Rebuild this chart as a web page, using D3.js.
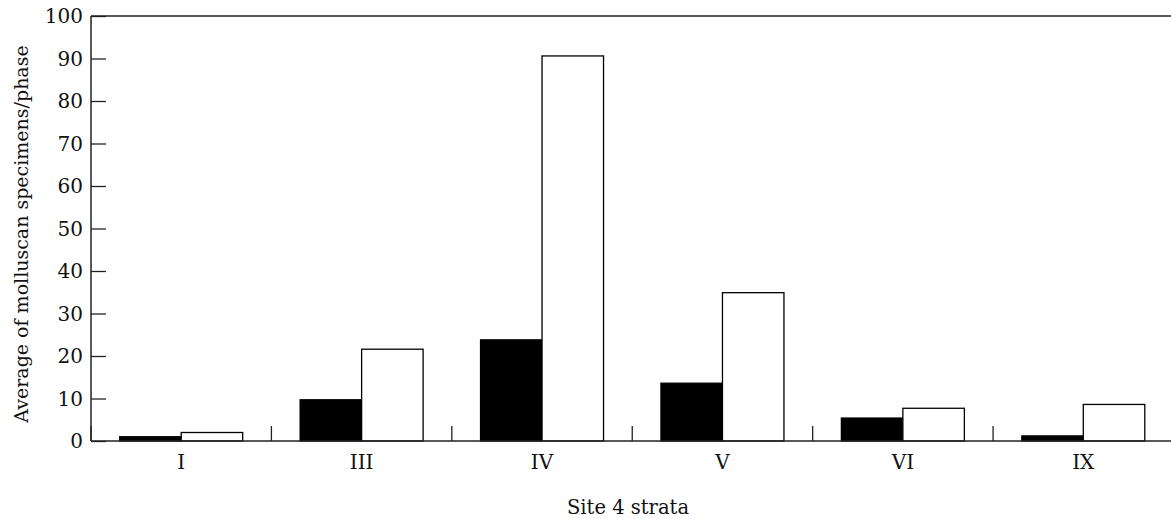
<!DOCTYPE html>
<html>
<head>
<meta charset="utf-8">
<script src="https://cdn.jsdelivr.net/npm/d3@7"></script>
<style>
  body { margin: 0; background: #fff; }
  svg { display: block; font-family: "DejaVu Serif", serif; }
</style>
</head>
<body>
<svg></svg>
<script>
// values
const strata = ["I", "III", "IV", "V", "VI", "IX"];
const seriesNames = ["dark", "light"];
const darkValues = [1.0, 9.7, 23.8, 13.6, 5.4, 1.2];
const lightValues = [2.0, 21.6, 90.6, 34.9, 7.7, 8.6];
const yTicks = [0, 10, 20, 30, 40, 50, 60, 70, 80, 90, 100];

const svgWidth = 1171, svgHeight = 519;
const margin = { top: 16, right: -2.5, bottom: 78, left: 91 };
const width = svgWidth - margin.left - margin.right;
const height = svgHeight - margin.top - margin.bottom;

const svg = d3.select("svg")
    .attr("width", svgWidth)
    .attr("height", svgHeight);

const g = svg.append("g")
    .attr("transform", "translate(" + margin.left + "," + margin.top + ")");

const x0 = d3.scaleBand().domain(strata).range([0, width]).padding(0);
const x1 = d3.scaleBand().domain(seriesNames).range([0, x0.bandwidth()])
    .paddingInner(0).paddingOuter(0.467);
const y = d3.scaleLinear().domain([0, 100]).range([height, 0]);

const rows = strata.map(function(s, i) {
    return { stratum: s, dark: darkValues[i], light: lightValues[i] };
});

// bars
const groups = g.selectAll(".grp")
    .data(rows)
    .enter().append("g")
    .attr("transform", function(d) { return "translate(" + x0(d.stratum) + ",0)"; });

groups.selectAll("rect")
    .data(function(d) { return seriesNames.map(function(k) { return { key: k, value: d[k] }; }); })
    .enter().append("rect")
    .attr("x", function(d) { return x1(d.key); })
    .attr("y", function(d) { return y(d.value); })
    .attr("width", x1.bandwidth())
    .attr("height", function(d) { return height - y(d.value); })
    .attr("fill", function(d) { return d.key === "dark" ? "#000" : "#fff"; })
    .attr("stroke", "#000")
    .attr("stroke-width", 1.3);

// y axis, ticks pointing inward
const yAxis = g.append("g")
    .call(d3.axisRight(y).tickValues(yTicks).tickSize(15).tickFormat(""));
yAxis.select(".domain").remove();
yAxis.selectAll("line").attr("stroke", "#222").attr("stroke-width", 1.3);

g.selectAll(".ylab")
    .data(yTicks)
    .enter().append("text")
    .attr("x", -8)
    .attr("y", function(d) { return y(d); })
    .attr("dy", "0.36em")
    .attr("text-anchor", "end")
    .attr("font-size", 20)
    .attr("fill", "#111")
    .text(function(d) { return d; });

// frame: left, top, bottom
g.append("line").attr("x1", 0).attr("x2", 0).attr("y1", 0).attr("y2", height)
    .attr("stroke", "#222").attr("stroke-width", 1.5);
g.append("line").attr("x1", 0).attr("x2", width).attr("y1", 0).attr("y2", 0)
    .attr("stroke", "#222").attr("stroke-width", 1.5);
g.append("line").attr("x1", 0).attr("x2", width).attr("y1", height).attr("y2", height)
    .attr("stroke", "#222").attr("stroke-width", 1.5);

// category separators
g.selectAll(".sep")
    .data(strata)
    .enter().append("line")
    .attr("x1", function(d) { return x0(d); })
    .attr("x2", function(d) { return x0(d); })
    .attr("y1", height - 15)
    .attr("y2", height)
    .attr("stroke", "#222")
    .attr("stroke-width", 1.3);

// category labels
g.selectAll(".xlab")
    .data(strata)
    .enter().append("text")
    .attr("x", function(d) { return x0(d) + x0.bandwidth() / 2; })
    .attr("y", height + 28)
    .attr("text-anchor", "middle")
    .attr("font-size", 20)
    .attr("fill", "#111")
    .text(function(d) { return d; });

// axis titles
svg.append("text")
    .attr("x", 628)
    .attr("y", 514)
    .attr("text-anchor", "middle")
    .attr("font-size", 19.5)
    .attr("fill", "#111")
    .text("Site 4 strata");

svg.append("text")
    .attr("transform", "translate(28," + 234 + ") rotate(-90)")
    .attr("text-anchor", "middle")
    .attr("font-size", 19)
    .attr("fill", "#111")
    .text("Average of molluscan specimens/phase");
</script>
</body>
</html>
